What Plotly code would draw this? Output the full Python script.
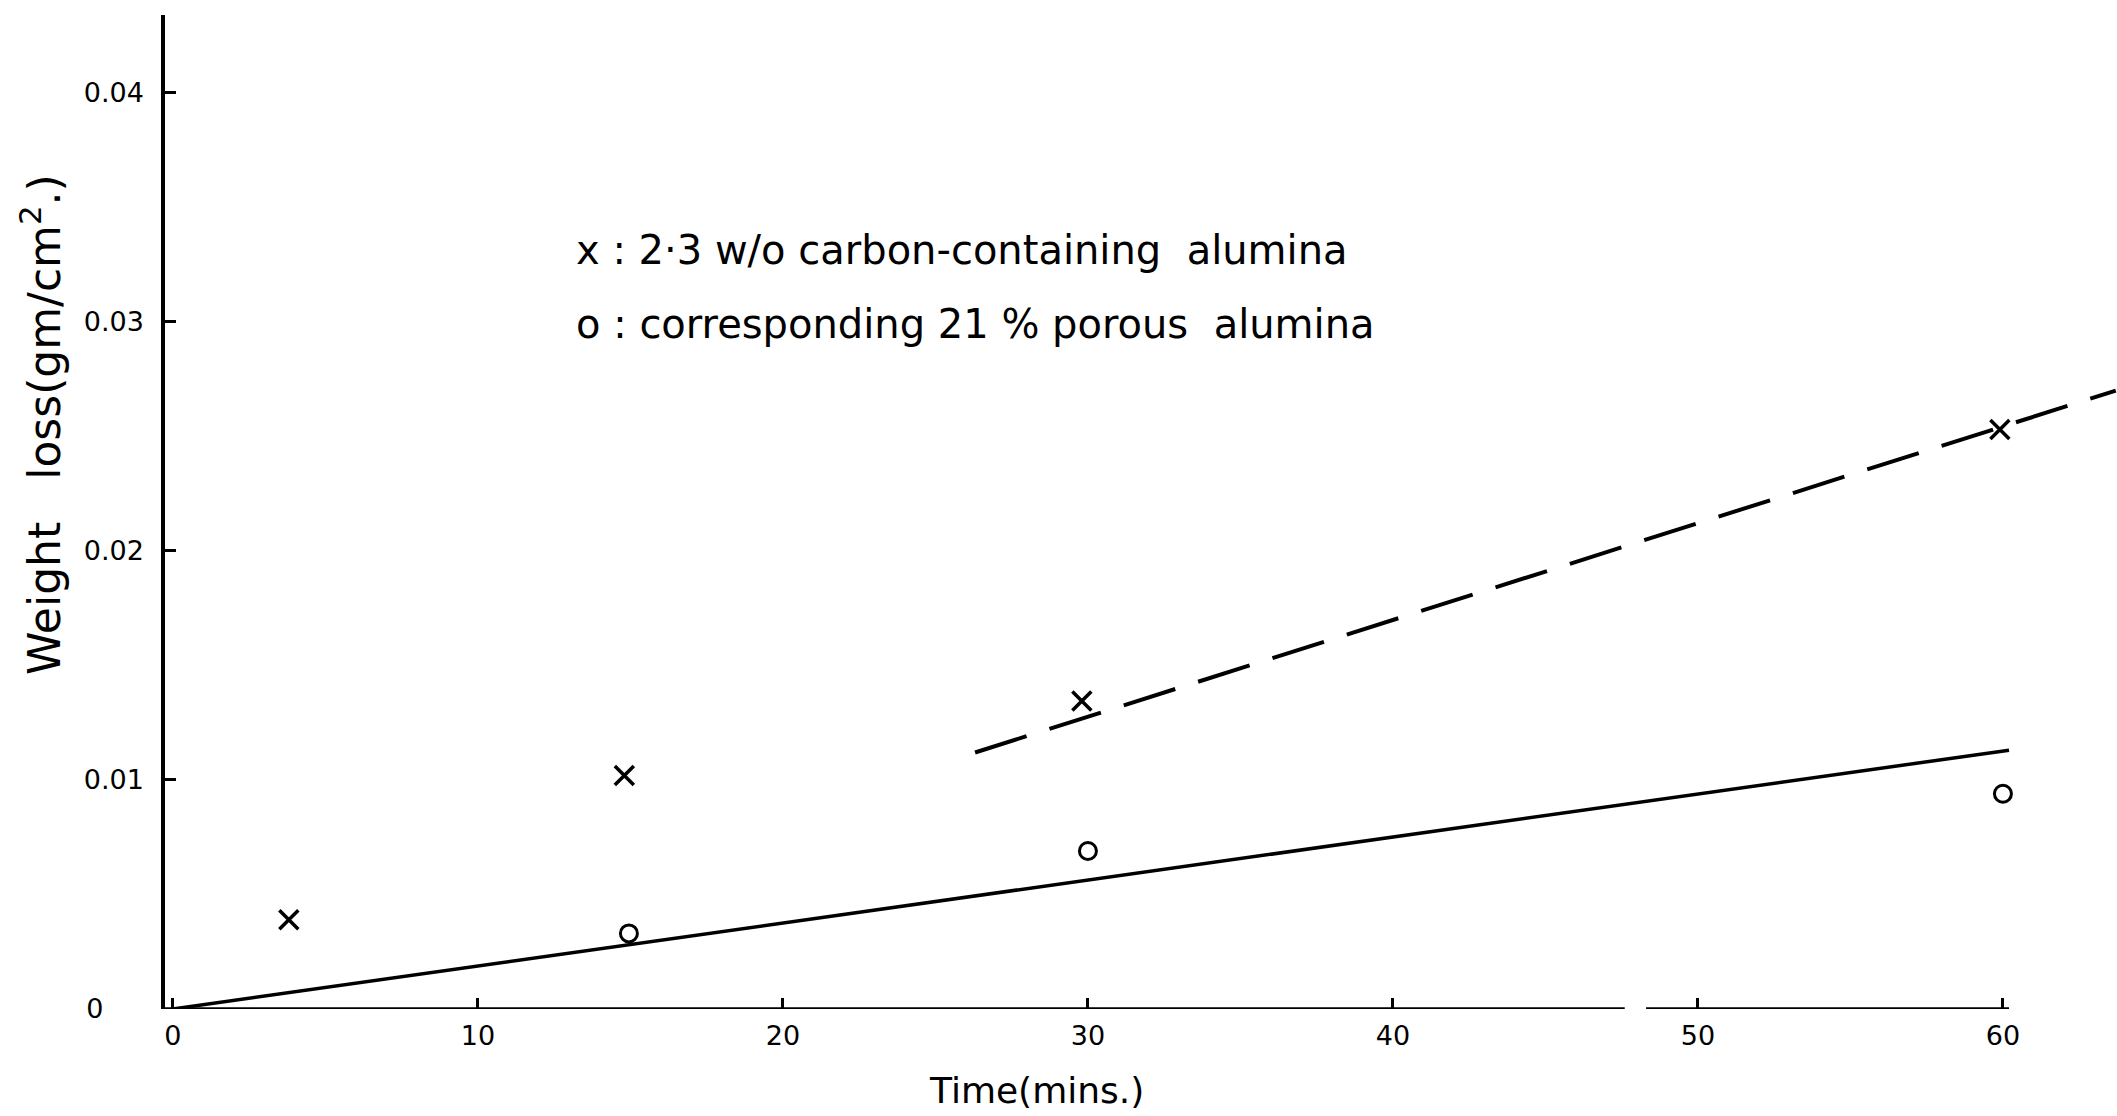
import plotly.graph_objects as go

# Data
carbon_t = [3.8, 14.8, 29.8, 59.9]
carbon_w = [0.0039, 0.0102, 0.01345, 0.0253]
porous_t = [14.95, 30.0, 60.0]
porous_w = [0.0033, 0.0069, 0.0094]

solid_fit_t = [0.0, 60.2]
solid_fit_w = [0.0, 0.0113]
dashed_fit_t = [26.3, 63.7]
dashed_fit_w = [0.0112, 0.0270]

x_ticks = [0, 10, 20, 30, 40, 50, 60]
x_tick_labels = ["0", "10", "20", "30", "40", "50", "60"]
y_ticks = [0, 0.01, 0.02, 0.03, 0.04]
y_tick_labels = ["0\u2002\u2002\u2002", "0.01", "0.02", "0.03", "0.04"]

FONT = "DejaVu Sans"

fig = go.Figure()

fig.add_trace(go.Scatter(x=solid_fit_t, y=solid_fit_w, mode="lines",
                         line=dict(color="black", width=3.5), showlegend=False))
fig.add_trace(go.Scatter(x=dashed_fit_t, y=dashed_fit_w, mode="lines",
                         line=dict(color="black", width=4, dash="54px,24px"), showlegend=False))
fig.add_trace(go.Scatter(x=carbon_t, y=carbon_w, mode="markers",
                         marker=dict(symbol="x-thin", size=19, line=dict(color="black", width=3.5)),
                         showlegend=False))
fig.add_trace(go.Scatter(x=porous_t, y=porous_w, mode="markers",
                         marker=dict(symbol="circle-open", size=17, color="black",
                                     line=dict(color="black", width=3)),
                         showlegend=False))

# x-axis line with a small break
fig.add_shape(type="line", x0=-0.26, x1=47.6, y0=0, y1=0, xref="x", yref="y",
              line=dict(color="black", width=3.5))
fig.add_shape(type="line", x0=48.3, x1=60.2, y0=0, y1=0, xref="x", yref="y",
              line=dict(color="black", width=3.5))

fig.add_annotation(text="Time(mins.)", xref="paper", yref="paper", x=0.4467, y=-0.082,
                   showarrow=False, xanchor="center", yanchor="middle",
                   font=dict(family=FONT, size=36, color="black"))
fig.add_annotation(text="Weight\u00a0\u00a0\u00a0loss(gm/cm<sup>2</sup>.)", xref="paper", yref="paper",
                   x=-0.064, y=0.5875, textangle=-90,
                   showarrow=False, xanchor="center", yanchor="middle",
                   font=dict(family=FONT, size=44, color="black"))
fig.add_annotation(text="x : 2·3 w/o carbon-containing\u00a0\u00a0alumina", xref="paper", yref="paper",
                   x=0.2095, y=0.7636, showarrow=False, xanchor="left", yanchor="middle",
                   font=dict(family=FONT, size=40, color="black"))
fig.add_annotation(text="o : corresponding 21 % porous\u00a0\u00a0alumina", xref="paper", yref="paper",
                   x=0.2095, y=0.6891, showarrow=False, xanchor="left", yanchor="middle",
                   font=dict(family=FONT, size=40, color="black"))

fig.update_layout(
    width=2117, height=1116,
    margin=dict(l=165, r=0, t=15, b=107),
    paper_bgcolor="white", plot_bgcolor="white",
    font=dict(family=FONT, color="black", size=27),
    xaxis=dict(range=[-0.26, 63.74], showgrid=False, zeroline=False, showline=False,
               tickvals=x_ticks, ticktext=x_tick_labels, ticks="inside", ticklen=11,
               tickwidth=3, tickcolor="black", tickfont=dict(size=27),
               ticklabelstandoff=8),
    yaxis=dict(range=[0, 0.0434], showgrid=False, zeroline=False, showline=True,
               linecolor="black", linewidth=3.5, tickvals=y_ticks, ticktext=y_tick_labels,
               ticks="inside", ticklen=11, tickwidth=3, tickcolor="black",
               tickfont=dict(size=27), ticklabelstandoff=12),
)

fig.write_html("out.html")
